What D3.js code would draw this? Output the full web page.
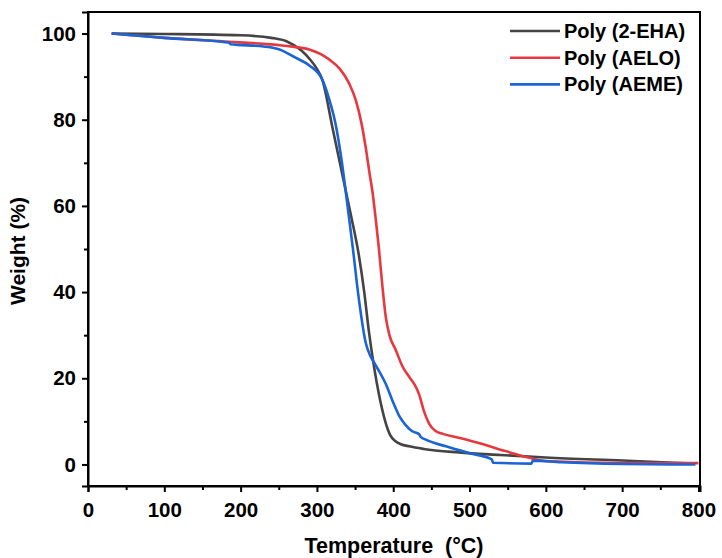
<!DOCTYPE html>
<html>
<head>
<meta charset="utf-8">
<script src="https://cdn.jsdelivr.net/npm/d3@7"></script>
<style>
  body { margin: 0; background: #fff; }
  text { font-family: "Liberation Sans", Arial, sans-serif; font-weight: bold; }
</style>
</head>
<body>
<div id="chart"></div>
<script>
// series data
var ehaTemp = [31, 100, 200, 240, 260, 280, 290, 300, 307, 320, 333, 345, 355, 362, 368, 375, 381, 390, 396, 403, 410, 421, 440, 486, 540, 600, 700, 795];
var ehaWeight = [100, 99.9, 99.6, 99, 98.2, 96, 94.2, 91.8, 89.3, 78.5, 67.5, 57.5, 48.5, 40, 31, 22.5, 16.5, 9.7, 6.8, 5.4, 4.7, 4.2, 3.6, 2.8, 2.2, 1.6, 0.9, 0.2];

var aeloTemp = [31, 100, 185, 230, 251, 270, 290, 316, 330, 342, 351, 358, 364, 369, 373, 377, 381, 386, 390, 395, 403, 412, 421, 428, 434, 440, 447, 455, 465, 486, 512, 547, 577, 600, 700, 800];
var aeloWeight = [100, 99, 98.1, 97.6, 97.3, 96.9, 96.3, 94, 91.8, 88.5, 84.5, 79.5, 73.5, 67.5, 63, 57, 50.5, 41, 34.5, 30, 26.7, 22.8, 20.3, 18.5, 16.2, 12.5, 9.5, 7.8, 7.1, 6.2, 5, 3.1, 1.6, 0.8, 0.3, 0.3];

var aemeTemp = [31, 100, 185, 187, 230, 251, 272, 290, 307, 316, 325, 332, 338, 347, 355, 364, 370, 375, 382, 390, 399, 408, 416, 425, 434, 436, 442, 469, 500, 529, 531, 581, 583, 620, 700, 796];
var aemeWeight = [100, 99, 97.9, 97.5, 97, 96.3, 94.4, 92.6, 89.3, 84.8, 78.5, 71, 63, 50.3, 38.3, 28.2, 25.2, 23.6, 21.5, 18.8, 14.8, 11.2, 9.2, 7.7, 7, 6.4, 5.8, 4.2, 2.6, 1.2, 0.4, 0.2, 0.9, 0.5, 0.1, 0];

var seriesNames = ["Poly (2-EHA)", "Poly (AELO)", "Poly (AEME)"];
var seriesColors = ["#444444", "#e8383d", "#1a64d6"];

var xTicks = [0, 100, 200, 300, 400, 500, 600, 700, 800];
var yTicks = [0, 20, 40, 60, 80, 100];

var width = 722, height = 558;
var margin = {top: 12, right: 22, bottom: 72, left: 88};
var iw = width - margin.left - margin.right;
var ih = height - margin.top - margin.bottom;

var svg = d3.select("#chart").append("svg")
  .attr("width", width)
  .attr("height", height);

var g = svg.append("g").attr("transform", "translate(" + margin.left + "," + margin.top + ")");

var x = d3.scaleLinear().domain([0, 802]).range([0, iw]);
var y = d3.scaleLinear().domain([-5, 105]).range([ih, 0]);

// curves (red under blue, black under both)
var series = [
  {t: ehaTemp, w: ehaWeight},
  {t: aeloTemp, w: aeloWeight},
  {t: aemeTemp, w: aemeWeight}
];
var line = d3.line()
  .x(function(d) { return x(d[0]); })
  .y(function(d) { return y(d[1]); })
  .curve(d3.curveMonotoneX);

series.forEach(function(s, i) {
  g.append("path")
    .datum(s.t.map(function(t, k) { return [t, s.w[k]]; }))
    .attr("fill", "none")
    .attr("stroke", seriesColors[i])
    .attr("stroke-width", 2.6)
    .attr("stroke-linejoin", "round")
    .attr("d", line);
});

// frame
g.append("rect")
  .attr("width", iw).attr("height", ih)
  .attr("fill", "none").attr("stroke", "#000").attr("stroke-width", 2);

// x axis
g.append("g").attr("transform", "translate(0," + ih + ")")
  .call(d3.axisBottom(x).tickValues(xTicks).tickSize(6).tickPadding(10).tickFormat(d3.format("d")));
g.append("g").attr("transform", "translate(0," + ih + ")")
  .call(d3.axisBottom(x).tickValues(d3.range(50, 800, 100)).tickSize(4).tickFormat(""))
  .select(".domain").remove();

// y axis
g.append("g")
  .call(d3.axisLeft(y).tickValues(yTicks).tickSize(6).tickPadding(6).tickFormat(d3.format("d")));
g.append("g")
  .call(d3.axisLeft(y).tickValues(d3.range(10, 100, 20)).tickSize(4).tickFormat(""))
  .select(".domain").remove();

g.selectAll(".domain").attr("stroke-width", 2);
g.selectAll(".tick line").attr("stroke-width", 2);
g.selectAll(".tick text").attr("font-size", 20.5).attr("fill", "#000");

// axis titles
svg.append("text")
  .attr("x", margin.left + iw / 2)
  .attr("y", 553)
  .attr("text-anchor", "middle")
  .attr("font-size", 21.5)
  .style("white-space", "pre")
  .text("Temperature  (°C)");

svg.append("text")
  .attr("transform", "translate(25," + (margin.top + ih / 2 + 2) + ") rotate(-90)")
  .attr("text-anchor", "middle")
  .attr("font-size", 21)
  .text("Weight (%)");

// legend
var legend = svg.append("g");
seriesNames.forEach(function(name, i) {
  var ly = 31 + i * 26.7;
  legend.append("line")
    .attr("x1", 510).attr("x2", 560)
    .attr("y1", ly).attr("y2", ly)
    .attr("stroke", seriesColors[i]).attr("stroke-width", 2.6);
  legend.append("text")
    .attr("x", 564).attr("y", ly + 7)
    .attr("font-size", 20)
    .text(name);
});
</script>
</body>
</html>
